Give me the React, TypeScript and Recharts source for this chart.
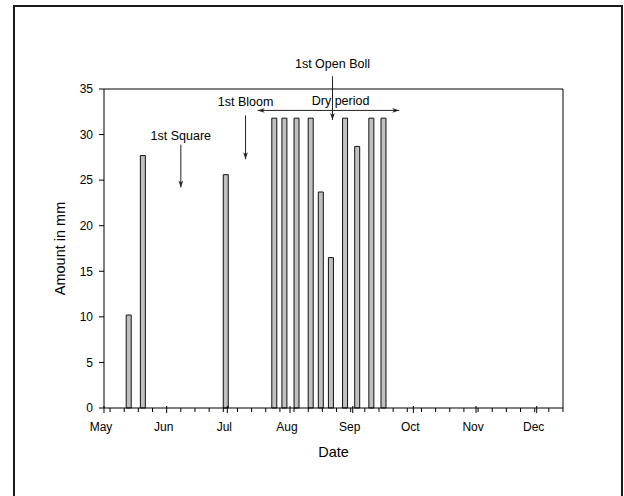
import React from "react";
import { ComposedChart, Bar, XAxis, YAxis, ReferenceLine, ReferenceDot, Label } from "recharts";

// rainfall / irrigation events, dates as MM-DD
const rainDates = ["05-13", "05-20", "06-30", "07-24", "07-29", "08-04", "08-11", "08-16", "08-21", "08-28", "09-03", "09-10", "09-16"];
const rainAmounts = [10.2, 27.7, 25.6, 31.8, 31.8, 31.8, 31.8, 23.7, 16.5, 31.8, 28.7, 31.8, 31.8];

const monthNames = ["May", "Jun", "Jul", "Aug", "Sep", "Oct", "Nov", "Dec"];
const monthLengths = [31, 30, 31, 31, 30, 31, 30, 31];
const yTicks = [0, 5, 10, 15, 20, 25, 30, 35];
const seasonEnd = "12-14";

// crop stages: label, date, arrow tail / tip / label height (mm)
const stageNames = ["1st Square", "1st Bloom", "1st Open Boll"];
const stageDates = ["06-08", "07-10", "08-22"];
const stageTail = [28.9, 32.1, 36.4];
const stageTip = [24.2, 27.3, 31.6];
const stageText = [29.9, 33.6, 37.8];

const dryStart = "07-16";
const dryEnd = "09-24";
const dryLevel = 32.65;
const dryLabelDate = "08-26";
const dryLabelLevel = 33.75;

const monthStarts = monthLengths.map((_, i) => monthLengths.slice(0, i).reduce((a, b) => a + b, 0));

function dayOfSeason(md: string) {
  const [m, d] = md.split("-").map(Number);
  return monthStarts[m - 5] + d - 1;
}

const maxDay = dayOfSeason(seasonEnd);
const minorTicks: number[] = [];
for (let d = 3; d <= maxDay; d += 7) minorTicks.push(d);
const xTicks = Array.from(new Set([...monthStarts, ...minorTicks])).sort((a, b) => a - b);

const data = rainDates.map((d, i) => ({ day: dayOfSeason(d), amount: rainAmounts[i] }));

const DateTick = (props: any) => {
  const { x, y, payload } = props;
  const idx = monthStarts.indexOf(payload.value);
  const major = idx >= 0;
  return (
    <g>
      <line x1={x} x2={x} y1={y - (major ? 2 : 0)} y2={y + (major ? 5 : 4)} stroke="#000" />
      {major && (
        <text x={x - 3} y={y + 23} textAnchor="middle" fontSize={12} fill="#000">
          {monthNames[idx]}
        </text>
      )}
    </g>
  );
};

function arrowHead(x1: number, y1: number, x2: number, y2: number) {
  const len = Math.hypot(x2 - x1, y2 - y1) || 1;
  const ux = (x2 - x1) / len;
  const uy = (y2 - y1) / len;
  const hl = 7;
  const hw = 2.4;
  const bx = x2 - ux * hl;
  const by = y2 - uy * hl;
  return `${x2},${y2} ${bx - uy * hw},${by + ux * hw} ${bx + ux * 2},${by + uy * 2} ${bx + uy * hw},${by - ux * hw}`;
}

const arrowShape = (double: boolean) => (p: any) => {
  const { x1, y1, x2, y2 } = p;
  return (
    <g>
      <line x1={x1} y1={y1} x2={x2} y2={y2} stroke="#222" strokeWidth={1} />
      <polygon points={arrowHead(x1, y1, x2, y2)} fill="#222" />
      {double && <polygon points={arrowHead(x2, y2, x1, y1)} fill="#222" />}
    </g>
  );
};

const textShape = (text: string) => (p: any) => (
  <text x={p.cx} y={p.cy} dy="0.35em" textAnchor="middle" fontSize={12.5} fill="#000">
    {text}
  </text>
);

export default function App() {
  return (
    <div
      style={{
        position: "absolute",
        left: 0,
        top: 0,
        width: 624,
        height: 496,
        overflow: "hidden",
        background: "#fff",
        fontFamily: "'Liberation Sans', Arial, sans-serif",
      }}
    >
      <div
        style={{
          position: "absolute",
          left: 13,
          top: 5,
          width: 610,
          height: 520,
          border: "2px solid #1a1a1a",
          boxSizing: "border-box",
        }}
      />
      <div style={{ position: "absolute", left: 0, top: 0 }}>
        <ComposedChart width={624} height={496} data={data} margin={{ top: 89, right: 61, left: 64, bottom: 58 }}>
          <XAxis
            type="number"
            dataKey="day"
            domain={[0, maxDay]}
            ticks={xTicks}
            interval={0}
            tick={<DateTick />}
            tickLine={false}
            tickSize={0}
            tickMargin={0}
            axisLine={{ stroke: "#000" }}
            height={30}
          >
            <Label value="Date" position="bottom" offset={9} fontSize={14.5} fill="#000" />
          </XAxis>
          <YAxis
            type="number"
            domain={[0, 35]}
            ticks={yTicks}
            interval={0}
            width={40}
            tickSize={5}
            tickMargin={6}
            tick={{ fill: "#000", fontSize: 12 }}
            tickLine={{ stroke: "#000" }}
            axisLine={{ stroke: "#000" }}
          >
            <Label
              content={(p: any) => {
                const vb = p.viewBox;
                const cx = 60;
                const cy = vb.y + vb.height / 2;
                return (
                  <text x={cx} y={cy} dy="0.35em" textAnchor="middle" fontSize={14.5} fill="#000" transform={`rotate(-90 ${cx} ${cy})`}>
                    Amount in mm
                  </text>
                );
              }}
            />
          </YAxis>
          <ReferenceLine y={35} stroke="#000" />
          <ReferenceLine x={maxDay} stroke="#000" />
          <Bar dataKey="amount" fill="#c0c0c0" stroke="#111" strokeWidth={1} barSize={5} isAnimationActive={false} />
          {stageNames.map((name, i) => (
            <ReferenceLine
              key={`arrow-${name}`}
              ifOverflow="visible"
              segment={[
                { x: dayOfSeason(stageDates[i]), y: stageTail[i] },
                { x: dayOfSeason(stageDates[i]), y: stageTip[i] },
              ]}
              shape={arrowShape(false)}
            />
          ))}
          {stageNames.map((name, i) => (
            <ReferenceDot
              key={`label-${name}`}
              ifOverflow="visible"
              x={dayOfSeason(stageDates[i])}
              y={stageText[i]}
              r={0}
              shape={textShape(name)}
            />
          ))}
          <ReferenceLine
            ifOverflow="visible"
            segment={[
              { x: dayOfSeason(dryStart), y: dryLevel },
              { x: dayOfSeason(dryEnd), y: dryLevel },
            ]}
            shape={arrowShape(true)}
          />
          <ReferenceDot
            ifOverflow="visible"
            x={dayOfSeason(dryLabelDate)}
            y={dryLabelLevel}
            r={0}
            shape={textShape("Dry period")}
          />
        </ComposedChart>
      </div>
    </div>
  );
}
